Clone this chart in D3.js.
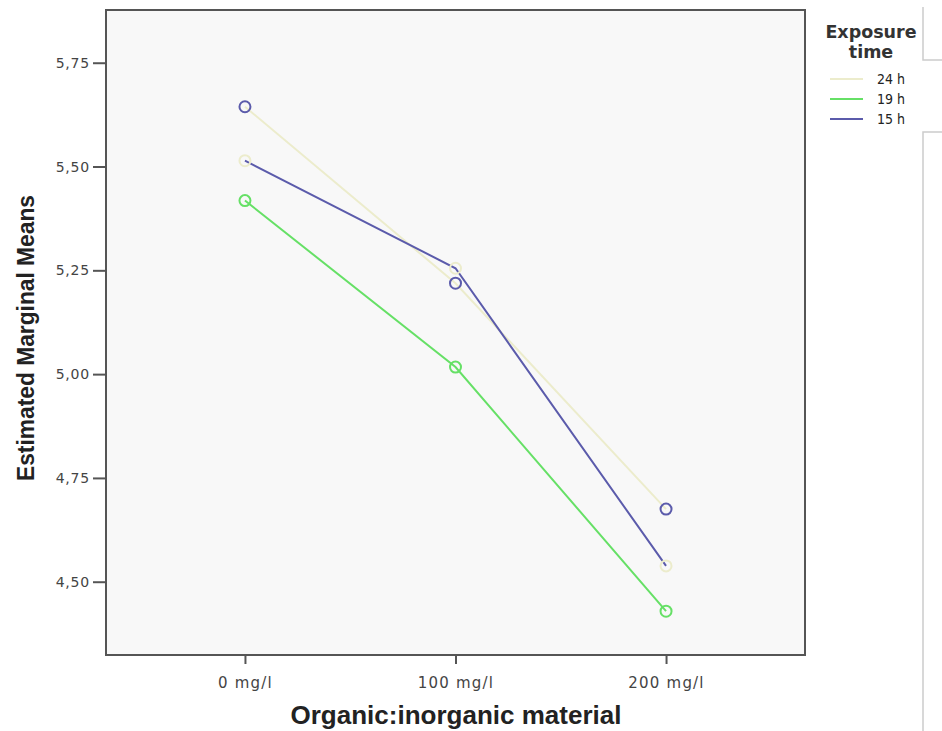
<!DOCTYPE html>
<html>
<head>
<meta charset="utf-8">
<script src="https://cdn.jsdelivr.net/npm/d3@7"></script>
<style>
    body { margin: 0; background: #fff; }
    svg { display: block; }
</style>
</head>
<body>
<div id="chart"></div>
<script>
// categories on the x axis
let doses = ['0 mg/l', '100 mg/l', '200 mg/l'];
// series as drawn by the lines
let seriesNames = ['24 h', '19 h', '15 h'];
let means24 = [5.644, 5.219, 4.675];
let means19 = [5.418, 5.017, 4.429];
let means15 = [5.514, 5.255, 4.538];
let yTicks = [4.50, 4.75, 5.00, 5.25, 5.50, 5.75];

let lineColors = ['#ececcc', '#66e066', '#5b5bab'];
// SPSS drew the markers of 24 h and 15 h in each other's colour
let markerColors = ['#5b5bab', '#66e066', '#ececcc'];

let width = 942, height = 731;
let plot = {left: 106, top: 10, right: 805, bottom: 655};

let svg = d3.select('#chart').append('svg')
    .attr('width', width)
    .attr('height', height);

let x = d3.scalePoint()
    .domain(doses)
    .range([plot.left, plot.right])
    .padding(0.66);

let y = d3.scaleLinear()
    .domain([4.3235, 5.877])
    .range([plot.bottom, plot.top]);

// plot background + frame
svg.append('rect')
    .attr('x', plot.left).attr('y', plot.top)
    .attr('width', plot.right - plot.left)
    .attr('height', plot.bottom - plot.top)
    .attr('fill', '#f8f8f8')
    .attr('stroke', '#555')
    .attr('stroke-width', 2);

let fmt = d => d3.format('.2f')(d).replace('.', ',');

// y axis
let yAxis = svg.append('g')
    .attr('transform', 'translate(' + plot.left + ',0)')
    .call(d3.axisLeft(y).tickValues(yTicks).tickFormat(fmt).tickSize(13).tickPadding(3));
yAxis.select('.domain').remove();
yAxis.selectAll('line').attr('stroke', '#555').attr('stroke-width', 2);
yAxis.selectAll('text')
    .attr('fill', '#444')
    .style('font-family', 'DejaVu Sans, sans-serif')
    .style('font-size', '14px')
    .style('letter-spacing', '0.8px');

// x axis
let xAxis = svg.append('g')
    .attr('transform', 'translate(0,' + plot.bottom + ')')
    .call(d3.axisBottom(x).tickSize(9).tickPadding(13));
xAxis.select('.domain').remove();
xAxis.selectAll('line').attr('stroke', '#555').attr('stroke-width', 2);
xAxis.selectAll('text')
    .attr('fill', '#444')
    .style('font-family', 'DejaVu Sans, sans-serif')
    .style('font-size', '15px')
    .style('letter-spacing', '1.2px');

// axis titles
svg.append('text')
    .attr('x', 456).attr('y', 724)
    .attr('text-anchor', 'middle')
    .attr('textLength', 331)
    .attr('lengthAdjust', 'spacingAndGlyphs')
    .style('font-family', 'Liberation Sans, Arial, sans-serif')
    .style('font-weight', 'bold')
    .style('font-size', '25px')
    .attr('fill', '#222')
    .text('Organic:inorganic material');

svg.append('text')
    .attr('transform', 'translate(34,338) rotate(-90)')
    .attr('text-anchor', 'middle')
    .attr('textLength', 286)
    .attr('lengthAdjust', 'spacingAndGlyphs')
    .style('font-family', 'Liberation Sans, Arial, sans-serif')
    .style('font-weight', 'bold')
    .style('font-size', '24px')
    .attr('fill', '#222')
    .text('Estimated Marginal Means');

let allSeries = [means24, means19, means15];

let line = d3.line()
    .x((d, i) => x(doses[i]))
    .y(d => y(d));

// lines
svg.selectAll('.series')
    .data(allSeries)
    .enter()
    .append('path')
    .attr('class', 'series')
    .attr('d', line)
    .attr('fill', 'none')
    .attr('stroke', (d, i) => lineColors[i])
    .attr('stroke-width', 2);

// markers
allSeries.forEach((vals, s) => {
    svg.selectAll('.m' + s)
        .data(vals)
        .enter()
        .append('circle')
        .attr('class', 'm' + s)
        .attr('cx', (d, i) => x(doses[i]))
        .attr('cy', d => y(d))
        .attr('r', 5.5)
        .attr('fill', 'none')
        .attr('stroke', markerColors[s])
        .attr('stroke-width', 2);
});

// legend
let legend = svg.append('g');
legend.append('text')
    .attr('x', 871).attr('y', 38)
    .attr('text-anchor', 'middle')
    .style('font-family', 'DejaVu Sans, sans-serif')
    .style('font-weight', 'bold')
    .style('font-size', '17.5px')
    .attr('fill', '#333')
    .text('Exposure');
legend.append('text')
    .attr('x', 871).attr('y', 58)
    .attr('text-anchor', 'middle')
    .style('font-family', 'DejaVu Sans, sans-serif')
    .style('font-weight', 'bold')
    .style('font-size', '17.5px')
    .attr('fill', '#333')
    .text('time');

let rows = legend.selectAll('.row')
    .data(seriesNames)
    .enter()
    .append('g')
    .attr('class', 'row')
    .attr('transform', (d, i) => 'translate(0,' + (79 + i * 20) + ')');
rows.append('line')
    .attr('x1', 830).attr('x2', 863)
    .attr('stroke', (d, i) => lineColors[i])
    .attr('stroke-width', 2);
rows.append('text')
    .attr('x', 877).attr('y', 5)
    .style('font-family', 'DejaVu Sans Condensed, DejaVu Sans, sans-serif')
    .style('font-size', '14px')
    .attr('fill', '#222')
    .text(d => d);

// leftover gray frame pieces at right edge
svg.append('path')
    .attr('d', 'M923,7V60H942M942,132H923V731')
    .attr('fill', 'none')
    .attr('stroke', '#ccc')
    .attr('stroke-width', 1.5);
</script>
</body>
</html>
